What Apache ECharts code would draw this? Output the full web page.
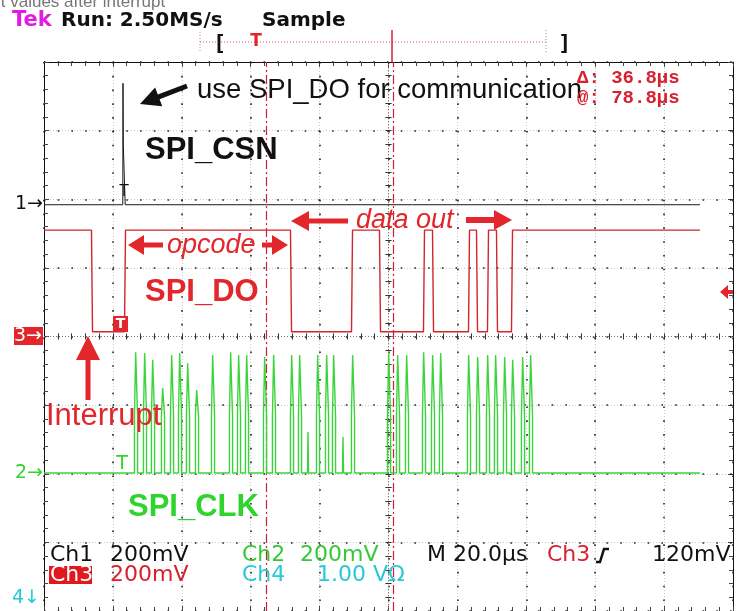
<!DOCTYPE html>
<html><head><meta charset="utf-8">
<script src="https://cdn.jsdelivr.net/npm/echarts@6/dist/echarts.min.js"></script>
<style>html,body{margin:0;padding:0;background:#fff}#c{width:742px;height:611px}</style>
</head><body><div id="c"></div><script>
// ---- data (time in µs, 20 µs/div; vertical in screen divisions 0..8) ----
const cursorTimes = [64.4, 101.3];
const csnTimes  = [0, 22.87, 22.93, 23.02, 23.51, 23.57, 190.4];
const csnValues = [5.92, 5.92, 7.69, 6.79, 6.79, 5.92, 5.92];
const doEdgeTimes = [13.93, 23.51, 71.70, 89.41, 97.53, 110.30, 112.92, 123.37, 125.69, 128.88, 131.49, 135.85];
const doLevels = [5.55, 4.07];          // high, low
const traceEnd = 190.4;
const clkTimes = [26.71, 29.32, 31.64, 34.54, 37.16, 39.48, 41.80, 44.41, 49.06, 54.28, 56.60, 58.93,
  64.15, 66.76, 71.99, 74.31, 76.63, 79.54, 82.15, 84.18, 86.79, 89.69, 100.15, 102.76, 105.37,
  110.30, 112.92, 115.24, 123.37, 125.98, 128.88, 131.20, 133.82, 136.14, 139.04, 141.36];
const clkPeaks = [3.77, 3.76, 3.66, 3.25, 3.73, 3.76, 3.61, 3.22, 3.73, 3.77, 3.73, 3.73,
  3.70, 3.73, 3.73, 3.73, 2.61, 3.73, 3.73, 3.73, 2.54, 3.73, 3.76, 3.73, 3.73,
  3.77, 3.73, 3.76, 3.73, 3.70, 3.73, 3.73, 3.70, 3.66, 3.70, 3.73];
const clkLevels = [2.01, 2.84];         // baseline, shoulder

// ---- build series data ----
const csnData = csnTimes.map((t, i) => [t, csnValues[i]]);
const doData = [[0, doLevels[0]]];
let lv = 0;
doEdgeTimes.forEach(t => { const nl = 1 - lv; doData.push([t - 0.15, doLevels[lv]], [t + 0.15, doLevels[nl]]); lv = nl; });
doData.push([traceEnd, doLevels[lv]]);
const clkData = [[0, clkLevels[0]]];
clkTimes.forEach((t, i) => {
  const p = clkPeaks[i], b = clkLevels[0], s = clkLevels[1];
  if (p > s) clkData.push([t - 0.45, b], [t - 0.45, s], [t - 0.1, p], [t + 0.1, p], [t + 0.45, s], [t + 0.45, b]);
  else clkData.push([t - 0.15, b], [t, p], [t + 0.15, b]);
});
clkData.push([traceEnd, clkLevels[0]]);

// ---- graticule centre cross (dotted lines with minor ticks every 1/5 division) ----
const graticule = [
  { yAxis: 4, lineStyle: { color: '#777', width: 1, type: [1, 2] } },
  { xAxis: 100, lineStyle: { color: '#777', width: 1, type: [1, 2] } }
];
for (let t = 4; t < 200; t += 4) graticule.push([{ coord: [t, 3.955] }, { coord: [t, 4.045] }]);
for (let v = 0.2; v < 8; v += 0.2) graticule.push([{ coord: [99.1, v] }, { coord: [100.9, v] }]);

// ---- annotation helpers ----
const RED = '#e3262b', GREEN = '#2fd42f', CYAN = '#27c9d8';
function txt(x, y, text, font, fill, align) {
  return { type: 'text', x: x, y: y, z: 100, silent: true,
    style: { text: text, font: font, fill: fill, textAlign: align || 'left', textVerticalAlign: 'middle', align: align || 'left', verticalAlign: 'middle' } };
}
function arrow(x1, y1, x2, y2, sw, hl, hw, color) {
  const dx = x2 - x1, dy = y2 - y1, L = Math.hypot(dx, dy), ux = dx / L, uy = dy / L, px = -uy, py = ux;
  const bx = x2 - ux * hl, by = y2 - uy * hl;
  return { type: 'polygon', z: 100, silent: true, shape: { points: [
    [x1 + px * sw / 2, y1 + py * sw / 2], [bx + px * sw / 2, by + py * sw / 2], [bx + px * hw, by + py * hw], [x2, y2],
    [bx - px * hw, by - py * hw], [bx - px * sw / 2, by - py * sw / 2], [x1 - px * sw / 2, y1 - py * sw / 2]] }, style: { fill: color } };
}
function line(x1, y1, x2, y2, color, w, dash) {
  return { type: 'line', z: 100, silent: true, shape: { x1: x1, y1: y1, x2: x2, y2: y2 }, style: { stroke: color, lineWidth: w, lineDash: dash || null } };
}
function rect(x, y, w, h, color) {
  return { type: 'rect', z: 99, silent: true, shape: { x: x, y: y, width: w, height: h }, style: { fill: color } };
}
const SC = '22px "DejaVu Sans"';
const graphics = [
  txt(-3, 2, 'it values after interrupt', '17px "Liberation Sans"', '#777'),
  txt(12, 21, 'Tek', 'bold 21px "DejaVu Sans"', '#e21be0'),
  txt(61, 21, 'Run: 2.50MS/s', 'bold 20px "DejaVu Sans"', '#111'),
  txt(262, 21, 'Sample', 'bold 20px "DejaVu Sans"', '#111'),
  line(200, 42, 546, 42, '#e0506a', 1, [1, 2]),
  line(200, 32, 200, 52, '#999', 1, [1, 2]),
  line(546, 30, 546, 52, '#999', 1, [1, 2]),
  txt(213, 44, '[', 'bold 22px "DejaVu Sans Mono"', '#111'),
  txt(256, 42, 'T', 'bold 17px "DejaVu Sans"', '#e3262b', 'center'),
  line(392, 30, 392, 62, '#d0203a', 1.5),
  txt(558, 44, ']', 'bold 22px "DejaVu Sans Mono"', '#111'),
  // channel markers
  txt(43, 204, '1\u2192', '19px "DejaVu Sans"', '#111', 'right'),
  rect(14, 327, 29, 18, RED),
  txt(42, 336, '3\u2192', '19px "DejaVu Sans"', '#fff', 'right'),
  txt(43, 473, '2\u2192', '19px "DejaVu Sans"', GREEN, 'right'),
  txt(12, 598, '4\u2193', '19px "DejaVu Sans"', CYAN),
  arrow(733, 292, 720, 292, 4, 8, 7, RED),
  // trigger markers
  txt(124, 192, 'T', '15px "DejaVu Sans"', '#111', 'center'),
  rect(113, 316, 15, 16, RED),
  txt(120.5, 324, 'T', 'bold 14px "DejaVu Sans"', '#fff', 'center'),
  txt(122, 464, 'T', '19px "DejaVu Sans"', GREEN, 'center'),
  // annotations
  txt(197, 90, 'use SPI_DO for communication', '27.5px "Liberation Sans"', '#111'),
  arrow(187, 86, 140, 104, 5, 20, 10, '#111'),
  txt(145, 150, 'SPI_CSN', 'bold 31px "Liberation Sans"', '#111'),
  txt(577, 78, '\u0394: 36.8\u00b5s', 'bold 19px "Liberation Mono"', '#d8202e'),
  txt(577, 98, '@: 78.8\u00b5s', 'bold 19px "Liberation Mono"', '#d8202e'),
  arrow(163, 245, 128, 245, 5, 16, 10, RED),
  txt(167, 245, 'opcode', 'italic 27px "Liberation Sans"', RED),
  arrow(262, 245, 288, 245, 5, 16, 10, RED),
  txt(145, 292, 'SPI_DO', 'bold 31px "Liberation Sans"', RED),
  arrow(348, 221, 291, 221, 5, 18, 10, RED),
  txt(356, 220, 'data out', 'italic 27px "Liberation Sans"', RED),
  arrow(466, 220, 512, 220, 6, 18, 10, RED),
  arrow(88, 400, 88, 336, 5, 24, 12, RED),
  txt(46, 416, 'Interrupt', '31px "Liberation Sans"', RED),
  txt(128, 507, 'SPI_CLK', 'bold 31px "Liberation Sans"', GREEN),
  // status lines
  txt(50, 555, 'Ch1', SC, '#111'),
  txt(110, 555, '200mV', SC, '#111'),
  txt(242, 555, 'Ch2', SC, '#37c837'),
  txt(300, 555, '200mV', SC, '#37c837'),
  txt(427, 555, 'M 20.0\u00b5s', SC, '#111'),
  txt(547, 555, 'Ch3', SC, '#d8202e'),
  { type: 'polyline', z: 100, silent: true, shape: { points: [[596, 562], [600, 562], [604, 549], [609, 549]] }, style: { stroke: '#111', lineWidth: 2.5, fill: null } },
  txt(652, 555, '120mV', SC, '#111'),
  rect(49, 566, 43, 18, '#e0191f'),
  txt(50, 575, 'Ch3', SC, '#fff'),
  txt(110, 575, '200mV', SC, '#d8202e'),
  txt(242, 575, 'Ch4', SC, CYAN),
  txt(317, 575, '1.00 V\u03a9', SC, CYAN)
];

// ---- axes (graticule border + grid lines) ----
const tickStyle = { color: '#444', width: 1 };
function xAx(pos, z, split) {
  return { type: 'value', min: 0, max: 200, interval: 20, position: pos, z: z,
    axisLine: { show: true, onZero: false, lineStyle: { color: '#111', width: 1 } },
    axisTick: { show: true, inside: true, length: 5, lineStyle: tickStyle },
    minorTick: { show: true, splitNumber: 5, length: 4, lineStyle: tickStyle },
    axisLabel: { show: false }, splitLine: split };
}
function yAx(pos, z, split) {
  return { type: 'value', min: 0, max: 8, interval: 1, position: pos, z: z,
    axisLine: { show: true, onZero: false, lineStyle: { color: '#111', width: 1 } },
    axisTick: { show: true, inside: true, length: 5, lineStyle: tickStyle },
    minorTick: { show: true, splitNumber: 5, length: 4, lineStyle: tickStyle },
    axisLabel: { show: false }, splitLine: split };
}

const chart = echarts.init(document.getElementById('c'), null, { renderer: 'canvas' });
chart.setOption({
  animation: false,
  backgroundColor: '#fff',
  grid: { left: 44, top: 62, width: 689, height: 549 },
  xAxis: [
    xAx('bottom', 2, { show: true, lineStyle: { color: '#222', width: 1.6, type: [1.6, 12.18] } }),
    xAx('top', 1, { show: true, lineStyle: { color: '#c8c8c8', width: 1, type: [1, 2] } })
  ],
  yAxis: [
    yAx('left', 2, { show: true, lineStyle: { color: '#222', width: 1.6, type: [1.6, 12.12] } }),
    yAx('right', 1, { show: true, lineStyle: { color: '#c8c8c8', width: 1, type: [1, 2] } })
  ],
  series: [
    { type: 'line', name: 'graticule', data: [], symbol: 'none', z: 3,
      markLine: { symbol: 'none', silent: true, label: { show: false }, animation: false,
        lineStyle: { color: '#333', width: 1, type: 'solid' }, data: graticule } },
    { type: 'line', name: 'CH1', data: csnData, symbol: 'none', z: 5, lineStyle: { color: '#1a1a1a', width: 1 } },
    { type: 'line', name: 'CH3', data: doData, symbol: 'none', z: 6, lineStyle: { color: '#d0262c', width: 1.4 } },
    { type: 'line', name: 'CH2', data: clkData, symbol: 'none', z: 6, lineStyle: { color: '#3cd43c', width: 1.4 } },
    { type: 'line', name: 'cursors', data: [], symbol: 'none', z: 7,
      markLine: { symbol: 'none', silent: true, label: { show: false }, animation: false,
        lineStyle: { color: '#d01c34', width: 1.2, type: [9, 3, 2, 3] },
        data: cursorTimes.map(t => ({ xAxis: t })) } }
  ],
  graphic: graphics
});
</script></body></html>
